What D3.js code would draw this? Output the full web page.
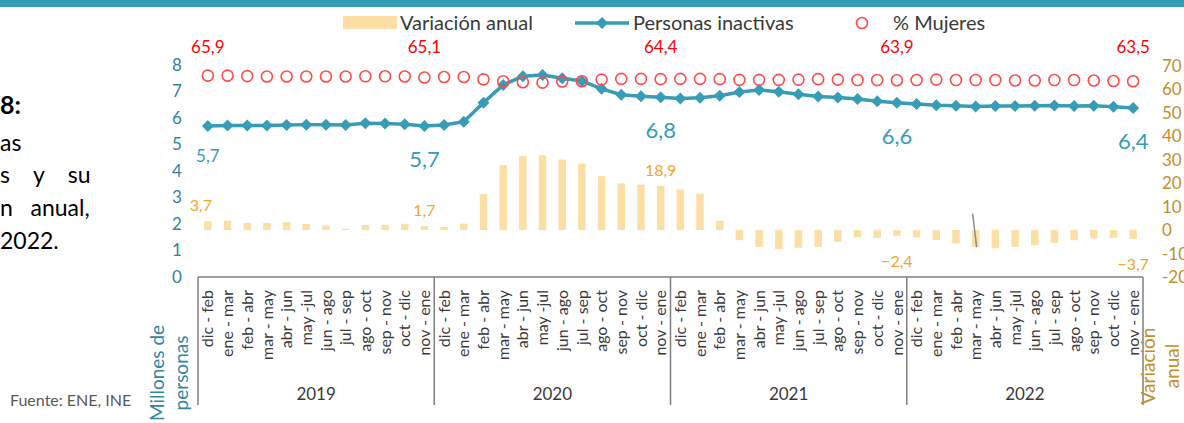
<!DOCTYPE html>
<html lang="es">
<head>
<meta charset="UTF-8">
<title>Personas inactivas</title>
<script src="https://d3js.org/d3.v7.min.js"></script>
<style>
  body { margin: 0; background: #fff; }
  svg { display: block; font-family: Lato, "Noto Sans", sans-serif; }
</style>
</head>
<body>
<svg class="chart" width="1184" height="423"></svg>
<script>
const periods = ["dic - feb", "ene - mar", "feb - abr", "mar - may", "abr - jun", "may -jul",
  "jun - ago", "jul - sep", "ago - oct", "sep - nov", "oct - dic", "nov - ene"];
const years = ["2019", "2020", "2021", "2022"];

// millones de personas
const inactivas = [
  5.70, 5.72, 5.72, 5.72, 5.74, 5.75, 5.75, 5.74, 5.80, 5.79, 5.76, 5.70,
  5.74, 5.86, 6.58, 7.25, 7.58, 7.62, 7.50, 7.40, 7.10, 6.88, 6.82, 6.78,
  6.74, 6.76, 6.84, 6.98, 7.06, 6.99, 6.90, 6.81, 6.77, 6.72, 6.63, 6.58,
  6.53, 6.48, 6.46, 6.43, 6.45, 6.45, 6.46, 6.47, 6.45, 6.46, 6.42, 6.38
];
// % mujeres
const mujeres = [
  65.9, 65.9, 65.7, 65.5, 65.5, 65.5, 65.5, 65.5, 65.6, 65.6, 65.5, 65.1,
  65.3, 65.3, 64.3, 63.5, 63.1, 62.9, 63.4, 63.5, 64.2, 64.5, 64.5, 64.4,
  64.5, 64.5, 64.4, 64.1, 64.1, 64.1, 64.2, 64.4, 64.2, 64.0, 64.0, 63.9,
  64.0, 64.2, 64.0, 64.0, 64.0, 63.8, 63.8, 64.0, 64.0, 63.8, 63.6, 63.5
];
// variación anual (%)
const variacion = [
  3.7, 4.0, 3.1, 3.1, 3.4, 2.6, 2.0, 0.6, 2.2, 2.2, 2.7, 1.7,
  1.4, 2.8, 15.3, 27.7, 31.6, 31.9, 30.1, 28.4, 23.0, 19.9, 19.4, 18.9,
  17.3, 15.6, 4.0, -4.3, -7.1, -8.1, -7.5, -7.1, -5.0, -3.1, -3.3, -2.4,
  -3.1, -4.3, -5.7, -7.1, -7.8, -7.1, -6.4, -5.4, -4.3, -3.5, -3.3, -3.7
];
const labelIdx = [0, 11, 23, 35, 47];
const leftTicks = [0, 1, 2, 3, 4, 5, 6, 7, 8];
const rightTicks = [-20, -10, 0, 10, 20, 30, 40, 50, 60, 70];

const teal = "#379cb5", tealDark = "#31849b", red = "#ff0000", circ = "#ff4b4b";
const peach = "#fcdfa4", orange = "#f2a52a", gold = "#c0902a", grey = "#3a3a3a";

const svg = d3.select(".chart");
const fmt = v => d3.format(".1f")(v).replace(".", ",");

const x = d3.scaleBand().domain(d3.range(48)).range([198, 1143]).paddingInner(0.62).paddingOuter(0.31);
const cx = i => x(i) + x.bandwidth() / 2;
const yL = d3.scaleLinear().domain([0, 8]).range([277, 65]);
const yR = d3.scaleLinear().domain([-20, 70]).range([277, 66]);

// top band
svg.append("rect").attr("x", 0).attr("y", 0).attr("width", 1184).attr("height", 7).attr("fill", "#369db6");

// left text (cut off)
const side = svg.append("g").attr("fill", "#000").style("font-size", "23px");
side.append("text").attr("x", 0).attr("y", 114).style("font-weight", "bold").style("font-size", "25px").text("8:");
side.append("text").attr("x", 0).attr("y", 151).text("as");
side.append("text").attr("x", 0).attr("y", 183).attr("xml:space", "preserve").text("s    y    su");
side.append("text").attr("x", 0).attr("y", 216).attr("xml:space", "preserve").text("n   anual,");
side.append("text").attr("x", 0).attr("y", 249).text("2022.");

svg.append("text").attr("x", 10).attr("y", 406).attr("fill", "#595959")
  .style("font-size", "16px").text("Fuente: ENE, INE");

// bars
svg.append("g").selectAll("rect").data(variacion).join("rect")
  .attr("x", (d, i) => x(i))
  .attr("width", x.bandwidth())
  .attr("y", d => yR(Math.max(0, d)))
  .attr("height", d => Math.abs(yR(d) - yR(0)))
  .attr("fill", peach);

// stray stroke on chart
svg.append("line")
  .attr("x1", cx(39) - 3).attr("y1", yR(7)).attr("x2", cx(39) + 1).attr("y2", yR(-7.3))
  .attr("stroke", "#8c8c8c").attr("stroke-width", 1.5);

// category axis
const axisY = yL(0);
const step = x.step();
const x0 = x.range()[0];
svg.append("line").attr("x1", x0).attr("x2", x.range()[1]).attr("y1", axisY).attr("y2", axisY)
  .attr("stroke", "#7f7f7f").attr("stroke-width", 1.5);
svg.append("g").selectAll("line").data(d3.range(5)).join("line")
  .attr("x1", k => x0 + k * 12 * step).attr("x2", k => x0 + k * 12 * step)
  .attr("y1", axisY).attr("y2", 405)
  .attr("stroke", "#7f7f7f").attr("stroke-width", 1.5);

svg.append("g").selectAll("text").data(d3.range(48)).join("text")
  .attr("transform", i => `translate(${cx(i)},290) rotate(-90)`)
  .attr("text-anchor", "end").attr("dy", "0.35em")
  .attr("fill", grey).style("font-size", "16px")
  .text(i => periods[i % 12]);

svg.append("g").selectAll("text").data(years).join("text")
  .attr("x", (d, k) => x0 + (k + 0.5) * 12 * step).attr("y", 400)
  .attr("text-anchor", "middle").attr("fill", grey).style("font-size", "17px")
  .text(d => d);

// axes labels
svg.append("g").selectAll("text").data(leftTicks).join("text")
  .attr("x", 177).attr("y", d => yL(d)).attr("dy", "0.35em").attr("text-anchor", "middle")
  .attr("fill", tealDark).style("font-size", "17px").text(d => d);
svg.append("g").selectAll("text").data(rightTicks).join("text")
  .attr("x", 1162).attr("y", d => yR(d)).attr("dy", "0.35em")
  .attr("fill", gold).style("font-size", "17px").text(d => d);

const lt = svg.append("text").attr("transform", "translate(0,373) rotate(-90)")
  .attr("text-anchor", "middle").attr("fill", "#31889f").style("font-size", "19px");
lt.append("tspan").attr("x", 0).attr("y", 164).text("Millones de");
lt.append("tspan").attr("x", 0).attr("y", 188).text("personas");
const rt = svg.append("text").attr("transform", "translate(0,366) rotate(-90)")
  .attr("text-anchor", "middle").attr("fill", gold).style("font-size", "19px");
rt.append("tspan").attr("x", 0).attr("y", 1155).text("Variación");
rt.append("tspan").attr("x", 0).attr("y", 1179).text("anual");

// line
const line = d3.line().x((d, i) => cx(i)).y(d => yL(d));
svg.append("path").datum(inactivas).attr("d", line)
  .attr("fill", "none").attr("stroke", teal).attr("stroke-width", 3.5);
const diamond = "M0,-6L6,0L0,6L-6,0Z";
svg.append("g").selectAll("path").data(inactivas).join("path")
  .attr("transform", (d, i) => `translate(${cx(i)},${yL(d)})`)
  .attr("d", diamond).attr("fill", teal);

// circles
svg.append("g").selectAll("circle").data(mujeres).join("circle")
  .attr("cx", (d, i) => cx(i)).attr("cy", d => yR(d)).attr("r", 5.5)
  .attr("fill", "none").attr("stroke", circ).attr("stroke-width", 1.6);

// data labels
svg.append("g").selectAll("text").data(labelIdx).join("text")
  .attr("x", i => cx(i)).attr("y", 53).attr("text-anchor", "middle")
  .attr("fill", red).style("font-size", "17px").text(i => fmt(mujeres[i]));
svg.append("g").selectAll("text").data(labelIdx).join("text")
  .attr("x", i => cx(i)).attr("y", i => yL(inactivas[i]) + (i === 0 ? 36 : 41))
  .attr("text-anchor", "middle").attr("fill", teal)
  .style("font-size", i => i === 0 ? "17px" : "22px").text(i => fmt(inactivas[i]));
svg.append("g").selectAll("text").data(labelIdx).join("text")
  .attr("x", i => cx(i) - (i === 0 ? 7 : 0))
  .attr("y", i => variacion[i] >= 0 ? yR(variacion[i]) - 10 : yR(variacion[i]) + 31)
  .attr("text-anchor", "middle").attr("fill", orange).style("font-size", "16px")
  .text(i => fmt(variacion[i]));

// legend
const lg = svg.append("g").style("font-size", "20px").attr("fill", grey);
lg.append("rect").attr("x", 343).attr("y", 16).attr("width", 54).attr("height", 13).attr("fill", peach);
lg.append("text").attr("x", 400).attr("y", 30).text("Variación anual");
lg.append("line").attr("x1", 575).attr("x2", 629).attr("y1", 23).attr("y2", 23)
  .attr("stroke", teal).attr("stroke-width", 3.5);
lg.append("path").attr("transform", "translate(602,23)").attr("d", diamond).attr("fill", teal);
lg.append("text").attr("x", 633).attr("y", 30).text("Personas inactivas");
lg.append("circle").attr("cx", 862).attr("cy", 23).attr("r", 5.5)
  .attr("fill", "none").attr("stroke", circ).attr("stroke-width", 1.6);
lg.append("text").attr("x", 893).attr("y", 30).text("% Mujeres");
</script>
</body>
</html>
